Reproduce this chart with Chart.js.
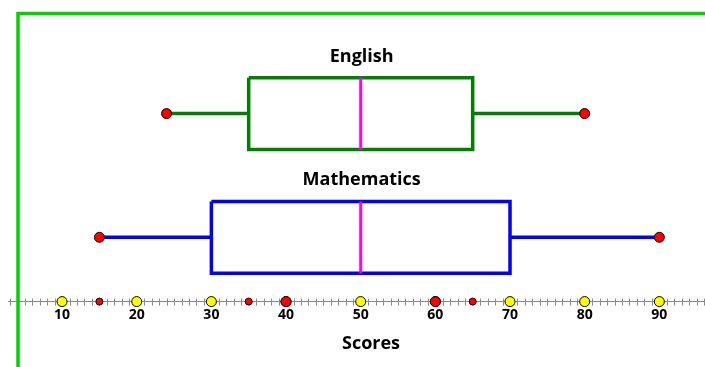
<!DOCTYPE html>
<html>
<head>
<meta charset="utf-8">
<script src="https://cdn.jsdelivr.net/npm/chart.js@4.4.0/dist/chart.umd.min.js"></script>
<style>
  html, body { margin: 0; padding: 0; background: #fff; overflow: hidden; }
  canvas { display: block; }
</style>
</head>
<body>
<canvas id="chart" width="740" height="367"></canvas>
<script>
// Datos del diagrama de caja
const subjects = ['English', 'Mathematics'];
const rows = [2, 1];                 // fila (eje y) de cada materia
const mins = [24, 15];
const q1s = [35, 30];
const medians = [50, 50];
const q3s = [65, 70];
const maxs = [80, 90];
const boxColors = ['#008000', '#0000ff'];

// Marcas sobre el eje
const yellowMarks = [10, 20, 30, 40, 50, 60, 70, 80, 90];
const smallRedMarks = [15, 35, 65];
const bigRedMarks = [40, 60];

const HALF = 0.29;     // media altura de la caja (unidades y)
const AXIS_Y = 0.48;   // el eje x coincide con el borde inferior

const C = {
    median: '#ff00ff',
    red: '#ff0000',
    yellow: '#ffff00',
    frame: '#00d400',
    axis: '#8a8a8a'
};

const datasets = [];

const marks = (vals, color, r) => ({
    type: 'scatter',
    data: vals.map(v => ({x: v, y: AXIS_Y})),
    backgroundColor: color,
    borderColor: '#000',
    borderWidth: 1,
    pointRadius: r,
    clip: false
});

// puntos primero: se dibujan encima
datasets.push(marks(bigRedMarks, C.red, 5));
datasets.push(marks(yellowMarks, C.yellow, 5));
datasets.push(marks(smallRedMarks, C.red, 3.5));

subjects.forEach((s, i) => {
    const y = rows[i];
    datasets.push({
        type: 'scatter',
        data: [{x: mins[i], y}, {x: maxs[i], y}],
        backgroundColor: C.red,
        borderColor: '#000',
        borderWidth: 1,
        pointRadius: 5
    });
    datasets.push({
        type: 'line',
        data: [{x: medians[i], y: y + HALF}, {x: medians[i], y: y - HALF}],
        borderColor: C.median,
        borderWidth: 3,
        pointRadius: 0,
        borderCapStyle: 'butt'
    });
    datasets.push({
        type: 'line',
        data: [
            {x: q1s[i], y: y + HALF}, {x: q3s[i], y: y + HALF},
            {x: q3s[i], y: y - HALF}, {x: q1s[i], y: y - HALF},
            {x: q1s[i], y: y + HALF}
        ],
        borderColor: boxColors[i],
        borderWidth: 3.5,
        pointRadius: 0,
        borderJoinStyle: 'miter'
    });
    datasets.push({
        type: 'line',
        data: [{x: mins[i], y}, {x: q1s[i], y}],
        borderColor: boxColors[i],
        borderWidth: 3.5,
        pointRadius: 0
    });
    datasets.push({
        type: 'line',
        data: [{x: q3s[i], y}, {x: maxs[i], y}],
        borderColor: boxColors[i],
        borderWidth: 3.5,
        pointRadius: 0
    });
});

// marco verde, rayitas del eje y nombres de las materias
const decor = {
    id: 'decor',
    beforeDraw(chart) {
        const {ctx} = chart;
        ctx.save();
        ctx.fillStyle = '#fff';
        ctx.fillRect(0, 0, chart.width, chart.height);
        ctx.restore();
    },
    beforeDatasetsDraw(chart) {
        const {ctx, scales: {x, y}} = chart;
        const py = y.getPixelForValue(AXIS_Y);
        ctx.save();
        ctx.strokeStyle = C.axis;
        ctx.lineWidth = 1;
        x.ticks.forEach(t => {
            const px = Math.round(x.getPixelForValue(t.value)) + 0.5;
            ctx.beginPath();
            ctx.moveTo(px, py - 3);
            ctx.lineTo(px, py + 4);
            ctx.stroke();
        });
        ctx.fillStyle = '#000';
        ctx.font = 'bold 18px "Open Sans"';
        ctx.textAlign = 'center';
        ctx.textBaseline = 'alphabetic';
        subjects.forEach((s, i) => {
            ctx.fillText(s, x.getPixelForValue(medians[i]) + 1, y.getPixelForValue(rows[i]) - 52);
        });
        ctx.restore();
    },
    afterDraw(chart) {
        const {ctx} = chart;
        ctx.save();
        ctx.strokeStyle = C.frame;
        ctx.lineWidth = 3.5;
        ctx.beginPath();
        ctx.moveTo(18, chart.height);
        ctx.lineTo(18, 13.5);
        ctx.lineTo(chart.width, 13.5);
        ctx.stroke();
        ctx.restore();
    }
};

Chart.defaults.font.family = '"Open Sans", sans-serif';
Chart.defaults.color = '#000';

new Chart(document.getElementById('chart'), {
    data: {datasets},
    options: {
        responsive: false,
        animation: false,
        events: [],
        layout: {padding: {left: 8, right: 0, top: 0, bottom: 0}},
        plugins: {legend: {display: false}, tooltip: {enabled: false}},
        scales: {
            x: {
                type: 'linear',
                min: 2.76,
                max: 100,
                grid: {display: false, drawTicks: false},
                border: {display: true, color: C.axis, width: 1},
                ticks: {
                    stepSize: 1,
                    includeBounds: false,
                    autoSkip: false,
                    maxRotation: 0,
                    padding: 5,
                    font: {size: 14, weight: 'bold'},
                    callback: v => (v % 10 === 0 && v < 100) ? v : ''
                },
                title: {
                    display: true,
                    text: 'Scores',
                    font: {size: 18, weight: 'bold'},
                    padding: {top: 5, bottom: 12}
                }
            },
            y: {
                type: 'linear',
                display: false,
                min: AXIS_Y,
                max: 2.87
            }
        }
    },
    plugins: [decor]
});
</script>
</body>
</html>
